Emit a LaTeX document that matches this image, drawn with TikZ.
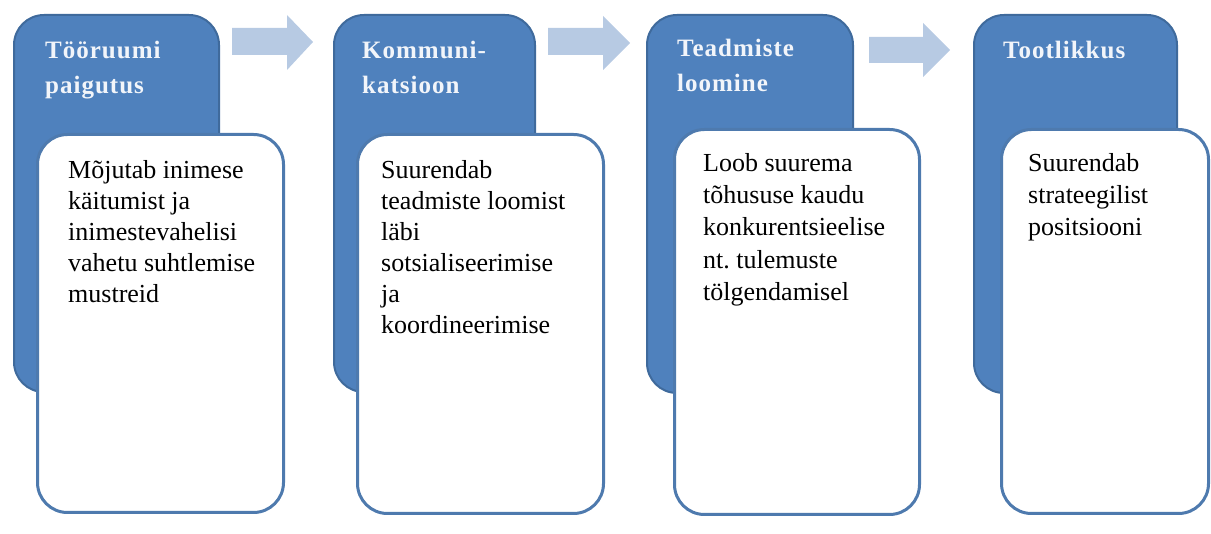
\documentclass[tikz,border=0pt]{standalone}
\usepackage{fontspec}
\setmainfont{Liberation Serif}
\newfontfamily\headfont[LetterSpace=4]{Liberation Serif}
\definecolor{tabblue}{HTML}{4F81BD}
\definecolor{tabedge}{HTML}{3F6A9C}
\definecolor{cardedge}{HTML}{4E7AAE}
\definecolor{arrowblue}{HTML}{B7CAE3}
\definecolor{headtxt}{HTML}{F2F5FA}
\begin{document}
\begin{tikzpicture}[x=1pt,y=-1pt,
  tab/.style={draw=tabedge, line width=2pt, fill=tabblue, rounded corners=30pt, anchor=north west, inner sep=0pt},
  card/.style={draw=cardedge, line width=3pt, fill=white, rounded corners=30pt, anchor=north west, inner sep=0pt},
  headtext/.style={anchor=north west, inner sep=0pt, align=left, text=headtxt, font=\headfont\fontsize{25}{35}\selectfont\bfseries},
  bodytext/.style={anchor=north west, inner sep=0pt, align=left, text=black, font=\fontsize{26}{31}\selectfont},
  widebody/.style={bodytext, font=\fontsize{26}{32.3}\selectfont},
  flow/.style={fill=arrowblue}
]
\useasboundingbox (0,0) rectangle (1211,534);
% blue tabs
\node[tab, minimum width=205pt, minimum height=377pt] (b1) at (13,14) {};
\node[tab, minimum width=201pt, minimum height=377pt] (b2) at (333,14) {};
\node[tab, minimum width=206pt, minimum height=378pt] (b3) at (646,14) {};
\node[tab, minimum width=203pt, minimum height=378pt] (b4) at (973,14) {};
% arrows
\fill[flow] (232,28) -- (287,28) -- (287,15) -- (313,42) -- (287,70) -- (287,55) -- (232,55) -- cycle;
\fill[flow] (548,28) -- (603,28) -- (603,16) -- (630,43) -- (603,70) -- (603,55) -- (548,55) -- cycle;
\fill[flow] (869,37) -- (923,37) -- (923,23) -- (950,50) -- (923,77) -- (923,63) -- (869,63) -- cycle;
% headers
\node[headtext] (h1) at (45,41) {Tööruumi\\paigutus};
\node[headtext] (h2) at (362,41) {Kommuni-\\katsioon};
\node[headtext] (h3) at (677,39) {Teadmiste\\loomine};
\node[headtext] (h4) at (1003,41) {Tootlikkus};
% white cards
\node[card, minimum width=246pt, minimum height=378pt] (w1) at (36,133) {};
\node[card, minimum width=246pt, minimum height=379pt] (w2) at (356,133) {};
\node[card, minimum width=245pt, minimum height=385pt] (w3) at (673,128) {};
\node[card, minimum width=207pt, minimum height=384pt] (w4) at (1000,128) {};
% body texts
\node[bodytext] (t1) at (68,160) {Mõjutab inimese\\käitumist ja\\inimestevahelisi\\vahetu suhtlemise\\mustreid};
\node[bodytext] (t2) at (381,160) {Suurendab\\teadmiste loomist\\läbi\\sotsialiseerimise\\ja\\koordineerimise};
\node[widebody] (t3) at (703,153) {Loob suurema\\tõhususe kaudu\\konkurentsieelise\\nt.\ tulemuste\\tölgendamisel};
\node[widebody] (t4) at (1028,153) {Suurendab\\strateegilist\\positsiooni};
\end{tikzpicture}
\end{document}
